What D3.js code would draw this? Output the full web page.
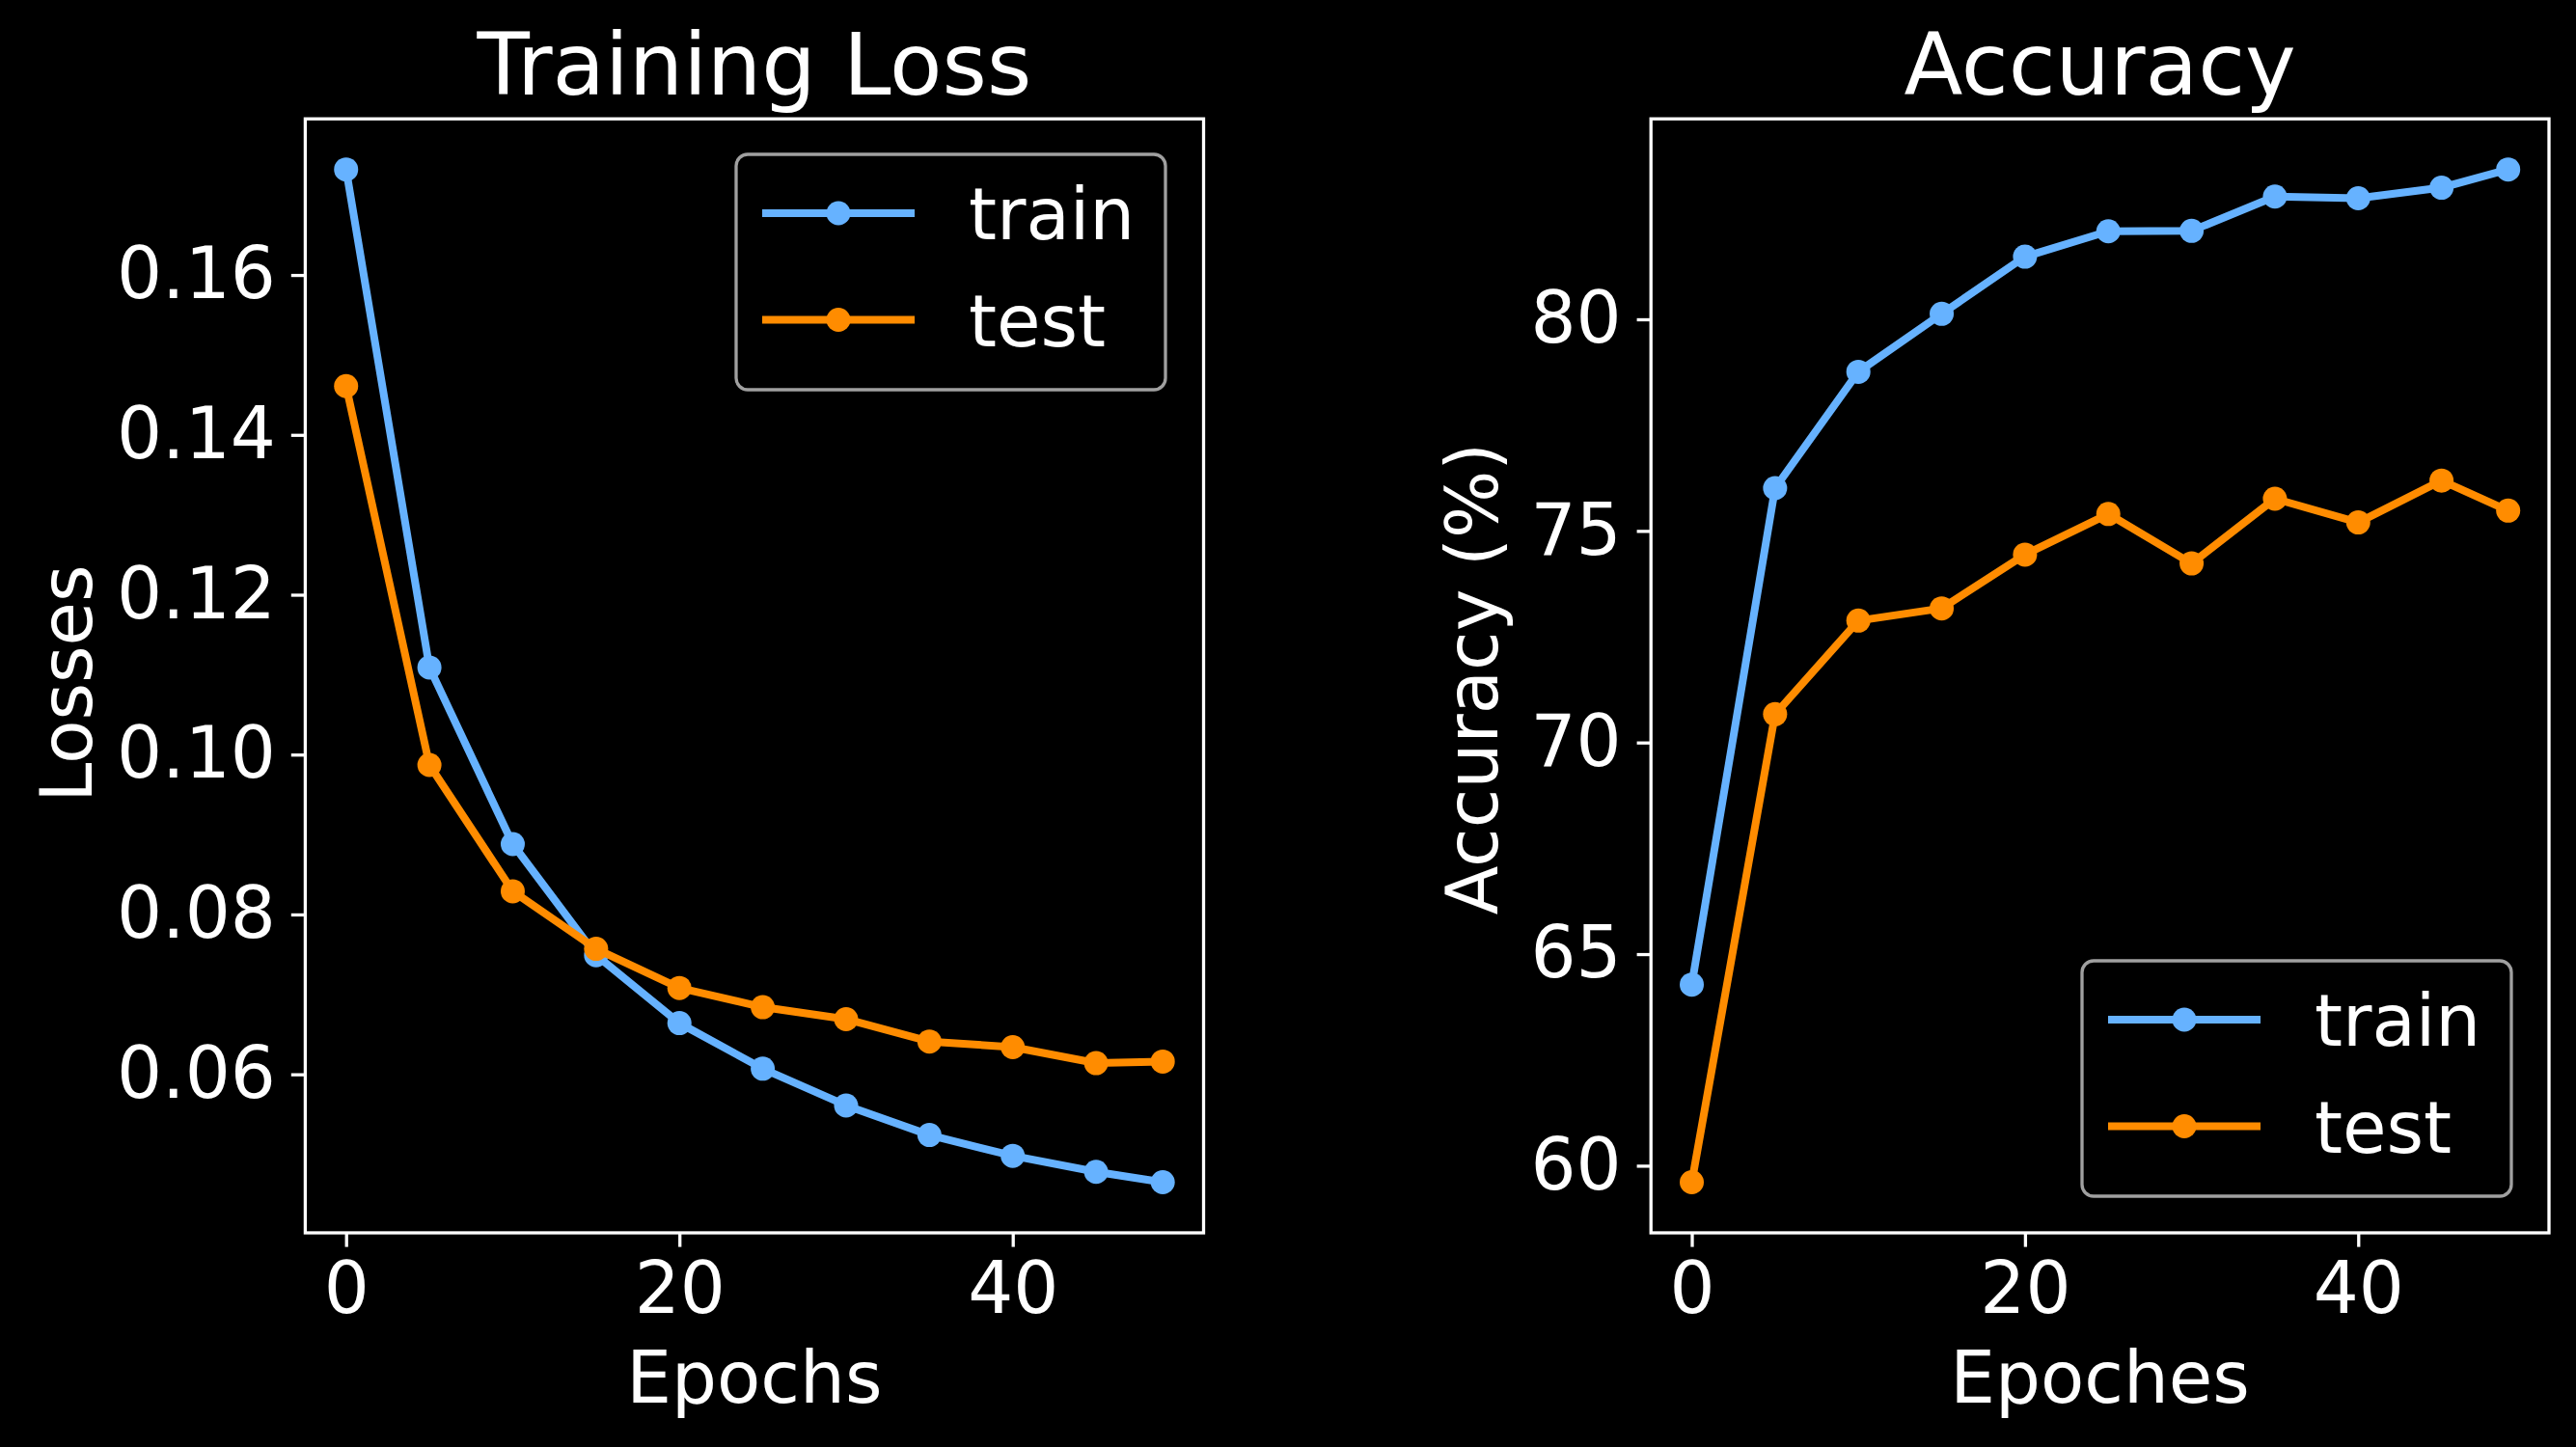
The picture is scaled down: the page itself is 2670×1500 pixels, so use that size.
<!DOCTYPE html>
<html>
<head>
<meta charset="utf-8">
<script src="https://cdn.jsdelivr.net/npm/d3@7"></script>
<style>
  html, body { margin: 0; padding: 0; background: #000; }
  text { font-family: "DejaVu Sans", sans-serif; fill: #fff; }
</style>
</head>
<body>
<div id="chart"></div>
<script>
// Data
const epochs = [0, 5, 10, 15, 20, 25, 30, 35, 40, 45, 49];
const trainLoss = [0.1732, 0.1109, 0.0888, 0.0749, 0.0664, 0.0607, 0.0561, 0.0524, 0.0498, 0.0478, 0.0465];
const testLoss = [0.1461, 0.0987, 0.0829, 0.0757, 0.0708, 0.0684, 0.0669, 0.0641, 0.0634, 0.0614, 0.0616];
const trainAcc = [64.28, 76.01, 78.76, 80.13, 81.48, 82.08, 82.09, 82.90, 82.86, 83.11, 83.54];
const testAcc = [59.61, 70.67, 72.88, 73.17, 74.44, 75.40, 74.23, 75.76, 75.20, 76.19, 75.48];
const xTicks = [0, 20, 40];
const lossTicks = [0.06, 0.08, 0.10, 0.12, 0.14, 0.16];
const accTicks = [60, 65, 70, 75, 80];
const seriesNames = ["train", "test"];

const width = 2670, height = 1500;
const colors = {train: "#66b2ff", test: "#ff8c00"};
const fs = 74;

const svg = d3.select("#chart")
    .append("svg")
    .attr("width", width)
    .attr("height", height)
    .style("background", "#000");

// matplotlib style 5% padding
function pad(lo, hi) {
    const m = (hi - lo) * 0.05;
    return [lo - m, hi + m];
}

function drawPanel(opts) {
    const {x0, x1, y0, y1} = opts;
    const xScale = d3.scaleLinear()
        .domain(pad(d3.min(epochs), d3.max(epochs)))
        .range([x0, x1]);
    const allY = opts.train.concat(opts.test);
    const yScale = d3.scaleLinear()
        .domain(pad(d3.min(allY), d3.max(allY)))
        .range([y1, y0]);

    // axes
    const xAxis = svg.append("g")
        .attr("transform", `translate(0,${y1})`)
        .call(d3.axisBottom(xScale).tickValues(xTicks).tickSize(14.6).tickPadding(16));
    const yAxis = svg.append("g")
        .attr("transform", `translate(${x0},0)`)
        .call(d3.axisLeft(yScale).tickValues(opts.ticks).tickFormat(opts.fmt).tickSize(14.6).tickPadding(16));
    [xAxis, yAxis].forEach(a => {
        a.select(".domain").remove();
        a.selectAll("line").attr("stroke", "#fff").attr("stroke-width", 3.3);
        a.selectAll("text")
            .style("font-family", "DejaVu Sans")
            .style("font-size", fs + "px")
            .attr("fill", "#fff");
    });

    // frame
    svg.append("rect")
        .attr("x", x0).attr("y", y0)
        .attr("width", x1 - x0).attr("height", y1 - y0)
        .attr("fill", "none")
        .attr("stroke", "#fff")
        .attr("stroke-width", 3.3);

    // lines
    const line = d3.line()
        .x((d, i) => xScale(epochs[i]))
        .y(d => yScale(d));
    [["train", opts.train], ["test", opts.test]].forEach(([name, vals]) => {
        svg.append("path")
            .datum(vals)
            .attr("d", line)
            .attr("fill", "none")
            .attr("stroke", colors[name])
            .attr("stroke-width", 8)
            .attr("stroke-linejoin", "round");
        svg.selectAll(null)
            .data(vals)
            .enter().append("circle")
            .attr("cx", (d, i) => xScale(epochs[i]))
            .attr("cy", d => yScale(d))
            .attr("r", 12.5)
            .attr("fill", colors[name]);
    });

    // title and labels
    svg.append("text")
        .attr("x", (x0 + x1) / 2)
        .attr("y", 98)
        .attr("text-anchor", "middle")
        .style("font-size", "89px")
        .text(opts.title);
    svg.append("text")
        .attr("x", (x0 + x1) / 2)
        .attr("y", 1454)
        .attr("text-anchor", "middle")
        .style("font-size", fs + "px")
        .text(opts.xlabel);
    svg.append("text")
        .attr("transform", `translate(${opts.ylabelX},${(y0 + y1) / 2 + opts.ylabelShift}) rotate(-90)`)
        .attr("text-anchor", "middle")
        .style("font-size", fs + "px")
        .text(opts.ylabel);

    // legend
    const lg = svg.append("g").attr("transform", `translate(${opts.legendX},${opts.legendY})`);
    lg.append("rect")
        .attr("width", 445).attr("height", 244)
        .attr("rx", 12).attr("ry", 12)
        .attr("fill", "#000")
        .attr("stroke", "#a0a0a0")
        .attr("stroke-width", 3.3);
    seriesNames.forEach((name, i) => {
        const cy = 61 + i * 110.5;
        lg.append("line")
            .attr("x1", 27).attr("x2", 185)
            .attr("y1", cy).attr("y2", cy)
            .attr("stroke", colors[name])
            .attr("stroke-width", 8);
        lg.append("circle")
            .attr("cx", 106).attr("cy", cy).attr("r", 12.5)
            .attr("fill", colors[name]);
        lg.append("text")
            .attr("x", 241).attr("y", cy + 27)
            .style("font-size", fs + "px")
            .text(name);
    });
}

drawPanel({
    x0: 316.4, x1: 1247.5, y0: 123.2, y1: 1278,
    train: trainLoss, test: testLoss,
    ticks: lossTicks, fmt: d3.format(".2f"),
    title: "Training Loss", xlabel: "Epochs", ylabel: "Losses",
    ylabelX: 95, ylabelShift: 8, legendX: 763, legendY: 160
});

drawPanel({
    x0: 1711.2, x1: 2642, y0: 123.2, y1: 1278,
    train: trainAcc, test: testAcc,
    ticks: accTicks, fmt: d3.format("d"),
    title: "Accuracy", xlabel: "Epoches", ylabel: "Accuracy (%)",
    ylabelX: 1552, ylabelShift: 3, legendX: 2158, legendY: 996
});
</script>
</body>
</html>
